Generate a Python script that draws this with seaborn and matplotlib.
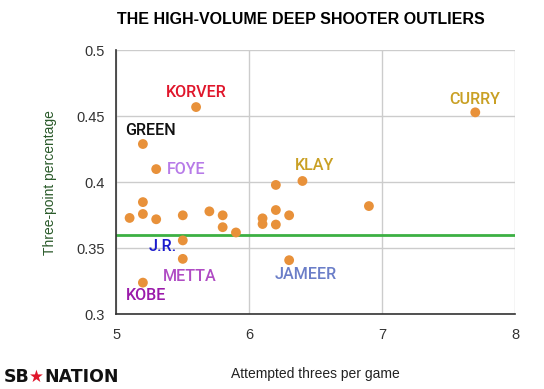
import matplotlib
matplotlib.use("Agg")
import matplotlib.pyplot as plt
import seaborn as sns
import pandas as pd

attempts = [5.60, 5.20, 5.30, 5.20, 5.10, 5.20, 5.30, 5.50, 5.70, 5.80, 5.80, 5.90,
            5.50, 5.50, 5.20, 6.10, 6.10, 6.20, 6.20, 6.20, 6.30, 6.40, 6.90, 7.70, 6.30]
pct = [0.457, 0.429, 0.410, 0.385, 0.373, 0.376, 0.372, 0.375, 0.378, 0.375, 0.366, 0.362,
       0.356, 0.342, 0.324, 0.3727, 0.3684, 0.398, 0.379, 0.368, 0.375, 0.401, 0.382, 0.453, 0.341]

league_avg = 0.360

label_names = ["KORVER", "GREEN", "FOYE", "KLAY", "CURRY", "J.R.", "METTA", "JAMEER", "KOBE"]
label_x = [5.60, 5.259, 5.524, 6.494, 7.697, 5.353, 5.554, 6.424, 5.223]
label_y = [0.4684, 0.4396, 0.410, 0.4124, 0.4631, 0.3512, 0.329, 0.3298, 0.3139]
label_colors = ["#e0162b", "#111111", "#b77be8", "#c9a024", "#c9a024", "#1a1acc",
                "#b04cc4", "#6b7ec8", "#9a1aaa"]

x_ticks = [5, 6, 7, 8]
y_ticks = [0.3, 0.35, 0.4, 0.45, 0.5]
y_tick_labels = ["0.3", "0.35", "0.4", "0.45", "0.5"]

sns.set_style("white")
plt.rcParams['font.family'] = ['Liberation Sans', 'DejaVu Sans']

df = pd.DataFrame({"att": attempts, "pct": pct})

fig = plt.figure(figsize=(5.44, 3.89), dpi=100)
ax = fig.add_axes([0.2138, 0.192, 0.947 - 0.2138, 0.8707 - 0.192])

ax.set_xlim(5, 8)
ax.set_ylim(0.3, 0.5)
ax.set_xticks(x_ticks)
ax.set_yticks(y_ticks)
ax.set_yticklabels(y_tick_labels)
ax.grid(True, color="#cccccc", linewidth=1.0)
ax.set_axisbelow(True)

ax.axhline(league_avg, color="#3cb043", linewidth=2.0, zorder=2)

sns.scatterplot(data=df, x="att", y="pct", ax=ax, color="#e8913a", s=50,
                edgecolor="none", linewidth=0, zorder=3)

for name, lx, ly, c in zip(label_names, label_x, label_y, label_colors):
    ax.text(lx, ly, name, color=c, ha="center", va="center", fontsize=11.6,
            family=["Roboto", "DejaVu Sans"], fontweight="medium", zorder=4)

for side in ["top", "right"]:
    ax.spines[side].set_visible(False)
for side in ["left", "bottom"]:
    ax.spines[side].set_color("#333333")
    ax.spines[side].set_linewidth(1.2)

ax.tick_params(axis="both", length=0, labelsize=10.5, colors="#333333", pad=8)
ax.tick_params(axis="x", pad=10)

ax.set_xlabel("Attempted threes per game", fontsize=10, color="#222222", labelpad=18)
ax.set_ylabel("Three-point percentage", fontsize=10, color="#2a5a2a", labelpad=14)

fig.text(301 / 544, 1 - 19 / 389, "THE HIGH-VOLUME DEEP SHOOTER OUTLIERS",
         ha="center", va="center", fontsize=11.5, fontweight="bold", color="#000000")

# SB Nation logo text
fig.text(4 / 544, 1 - 377 / 389, "SB", ha="left", va="center", fontsize=12.5,
         fontweight="heavy", family="DejaVu Sans", color="#111111")
fig.text(36 / 544, 1 - 377 / 389, "\u2605", ha="center", va="center", fontsize=12,
         family="DejaVu Sans", color="#e0162b")
fig.text(44 / 544, 1 - 377 / 389, "NATION", ha="left", va="center", fontsize=12.5,
         fontweight="heavy", family="DejaVu Sans", color="#111111")

fig.savefig("out.png", dpi=100, facecolor="white")
